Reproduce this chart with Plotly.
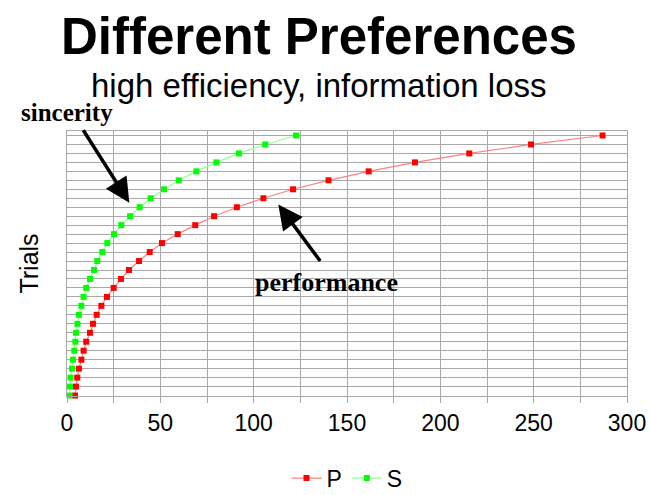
"""Different Preferences: trials vs value for P and S."""

import plotly.graph_objects as go

# trial index (rows from bottom to top)
trials = list(range(1, 31))

# P (performance) values per trial
p_values = [4.3, 4.8, 5.5, 6.4, 7.7, 8.9, 10.3, 12.3, 13.9, 15.9,
            18.4, 21.4, 25.0, 28.9, 33.2, 38.6, 44.3, 50.9, 59.3, 68.7,
            78.8, 91.0, 105.2, 121.1, 140.1, 161.6, 186.4, 215.5, 248.6, 286.9]

# S (sincerity) values per trial
s_values = [1.4, 1.6, 1.9, 2.7, 3.2, 3.9, 4.5, 4.8, 5.6, 6.4,
            7.7, 8.9, 10.3, 12.3, 14.5, 16.2, 18.9, 21.6, 25.2, 29.1,
            33.8, 38.9, 44.8, 52.0, 59.9, 69.3, 80.0, 92.1, 106.2, 122.7]

x_ticks = [0, 50, 100, 150, 200, 250, 300]

fig = go.Figure()

fig.add_trace(
    go.Scatter(
        x=p_values,
        y=trials,
        mode="lines+markers",
        name="P",
        line=dict(color="#ff8080", width=1.2),
        marker=dict(symbol="square", size=6, color="#ff0000"),
        cliponaxis=False,
    )
)
fig.add_trace(
    go.Scatter(
        x=s_values,
        y=trials,
        mode="lines+markers",
        name="S",
        line=dict(color="#90ff90", width=1.2),
        marker=dict(symbol="square", size=6, color="#00ff00"),
        cliponaxis=False,
    )
)

grid = "#a8a8a8"

fig.update_xaxes(
    range=[0, 300],
    tickvals=x_ticks,
    showgrid=True,
    gridcolor=grid,
    gridwidth=1,
    ticks="outside",
    ticklen=6,
    tickcolor=grid,
    minor=dict(dtick=25, showgrid=True, gridcolor=grid, ticks="outside",
               ticklen=6, tickcolor=grid),
    showline=True,
    mirror=True,
    linecolor=grid,
    zeroline=False,
    automargin=False,
    tickfont=dict(family="Liberation Sans, Arial", size=23, color="black"),
)
fig.update_yaxes(
    range=[0.95, 30.5],
    dtick=1,
    showticklabels=False,
    showgrid=True,
    gridcolor=grid,
    gridwidth=1,
    showline=True,
    mirror=True,
    linecolor=grid,
    zeroline=False,
    automargin=False,
    title=dict(text="Trials", standoff=20,
               font=dict(family="Liberation Sans, Arial", size=25, color="black")),
)

annotations = [
    dict(text="<b>Different Preferences</b>", xref="paper", yref="paper",
         x=0.45, y=1.355, xanchor="center", yanchor="middle", showarrow=False,
         font=dict(family="Liberation Sans, Arial", size=51, color="black")),
    dict(text="high efficiency, information loss", xref="paper", yref="paper",
         x=0.45, y=1.17, xanchor="center", yanchor="middle", showarrow=False,
         font=dict(family="Liberation Sans, Arial", size=33, color="black")),
    dict(text="<b>sincerity</b>", xref="paper", yref="paper",
         x=0.0, y=1.07, xanchor="center", yanchor="middle", showarrow=False,
         font=dict(family="Liberation Serif, Times New Roman", size=25, color="black")),
    dict(text="<b>performance</b>", xref="paper", yref="paper",
         x=0.463, y=0.43, xanchor="center", yanchor="middle", showarrow=False,
         font=dict(family="Liberation Serif, Times New Roman", size=26, color="black")),
    # arrows pointing at the two curves
    dict(x=33.4, y=22.5, xref="x", yref="y", text="", showarrow=True,
         ax=-47, ay=-74, arrowhead=2, arrowsize=1.4, arrowwidth=3.5,
         arrowcolor="black"),
    dict(x=113.2, y=22.3, xref="x", yref="y", text="", showarrow=True,
         ax=43, ay=58, arrowhead=2, arrowsize=1.4, arrowwidth=3.5,
         arrowcolor="black"),
]

fig.update_layout(
    width=651,
    height=495,
    margin=dict(l=67, r=24, t=131, b=99, autoexpand=False),
    plot_bgcolor="white",
    paper_bgcolor="white",
    annotations=annotations,
    showlegend=True,
    legend=dict(
        orientation="h",
        x=0.5,
        xanchor="center",
        y=-0.31,
        yanchor="middle",
        font=dict(family="Liberation Sans, Arial", size=23, color="black"),
    ),
)

# drop the default page margin so the figure fills the window exactly
fig.write_html(
    "out.html",
    config={"displayModeBar": False},
    post_script="document.body.style.margin='0';document.body.style.overflow='hidden';",
)
